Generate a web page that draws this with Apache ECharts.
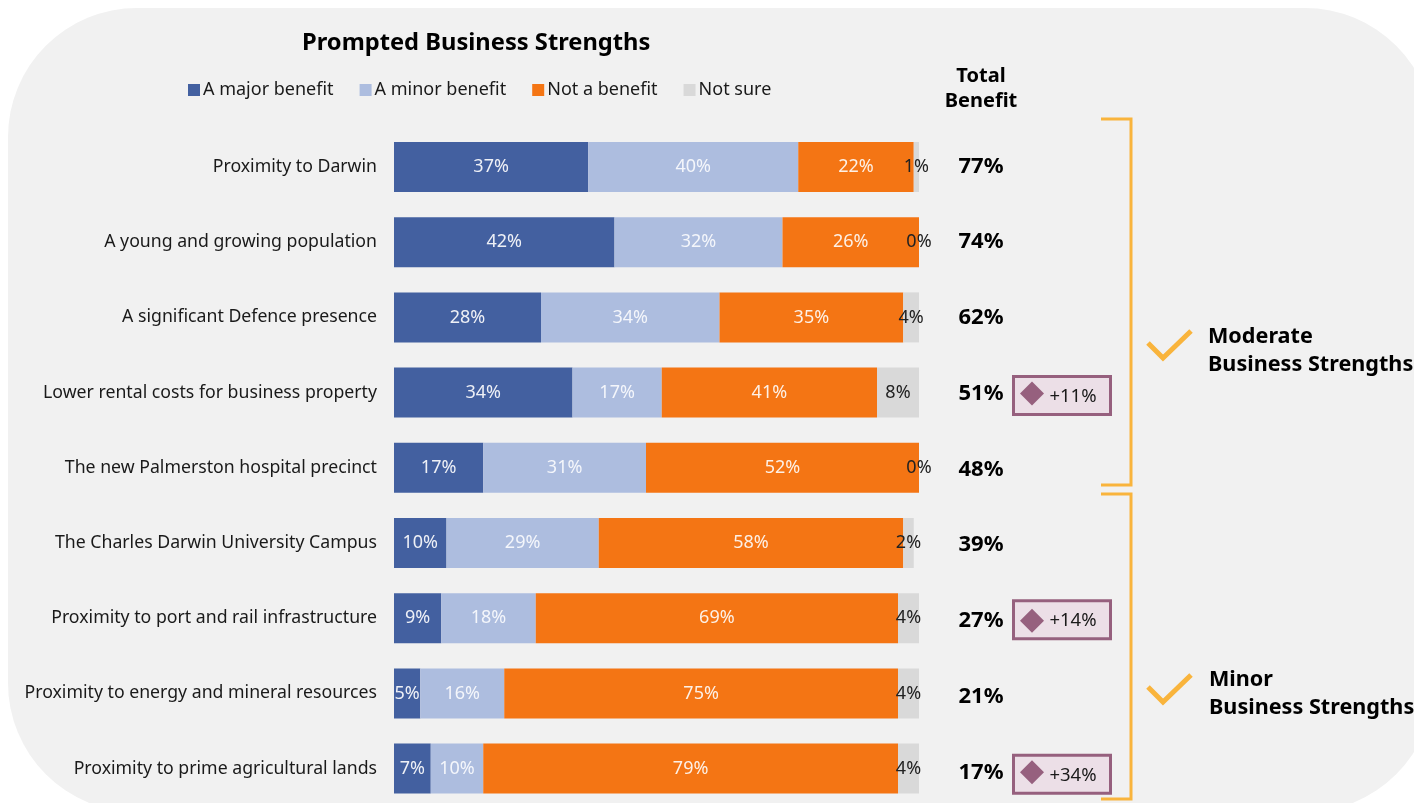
<!DOCTYPE html>
<html>
<head>
<meta charset="utf-8">
<title>Prompted Business Strengths</title>
<style>html,body{margin:0;padding:0;background:#fff}#chart{width:1414px;height:803px}</style>
<script src="https://cdn.jsdelivr.net/npm/echarts@6/dist/echarts.min.js"></script>
</head>
<body>
<div id="chart"></div>
<script>
// Survey responses, in percent, one entry per business strength
const strengths = [
  'Proximity to Darwin',
  'A young and growing population',
  'A significant Defence presence',
  'Lower rental costs for business property',
  'The new Palmerston hospital precinct',
  'The Charles Darwin University Campus',
  'Proximity to port and rail infrastructure',
  'Proximity to energy and mineral resources',
  'Proximity to prime agricultural lands'
];
const majorBenefit = [37, 42, 28, 34, 17, 10, 9, 5, 7];
const minorBenefit = [40, 32, 34, 17, 31, 29, 18, 16, 10];
const notBenefit   = [22, 26, 35, 41, 52, 58, 69, 75, 79];
const notSure      = [1, 0, 4, 8, 0, 2, 4, 4, 4];
const totalBenefit = [77, 74, 62, 51, 48, 39, 27, 21, 17];
const change       = [null, null, null, 11, null, null, 14, null, 34];

const FONT = '"Noto Sans", "Open Sans", sans-serif';
const GOLD = '#f9b43c';
const PLUM = '#96607e';

function stackedBar(name, values, color, labelColor) {
  return {
    name, type: 'bar', stack: 'share', data: values, barWidth: 50, clip: true,
    itemStyle: { color },
    label: {
      show: true, position: 'inside', formatter: '{c}%', offset: [0, 1],
      color: labelColor, fontFamily: FONT, fontSize: 18
    },
    labelLayout: { hideOverlap: false }
  };
}

const changeRows = change.map((v, i) => (v === null ? null : i)).filter(i => i !== null);
// The first and last boxes sit a little below their row centre
const boxNudge = { 3: 3, 6: 0, 8: 3 };

const option = {
  animation: false,
  backgroundColor: '#fff',
  textStyle: { fontFamily: FONT },
  title: [
    { text: 'Prompted Business Strengths', left: 297, top: 26,
      textStyle: { fontFamily: FONT, fontWeight: 'bold', fontSize: 23.7, color: '#000' } },
    { text: 'Total\nBenefit', left: 976, top: 59, textAlign: 'center',
      textStyle: { fontFamily: FONT, fontWeight: 'bold', fontSize: 20, lineHeight: 25, color: '#000' } }
  ],
  legend: {
    left: 188, top: 81, padding: 0, icon: 'rect', itemWidth: 12, itemHeight: 12, itemGap: 26,
    selectedMode: false,
    textStyle: { fontFamily: FONT, fontSize: 18, color: '#1a1a1a', padding: [0, 0, 0, -2] },
    data: ['A major benefit', 'A minor benefit', 'Not a benefit', 'Not sure']
  },
  grid: [
    { left: 394, top: 129.4, width: 525, height: 676.8, outerBoundsMode: 'none' },
    { left: 940.5, top: 128.4, width: 162, height: 681.75, outerBoundsMode: 'none' }
  ],
  xAxis: [
    { type: 'value', gridIndex: 0, min: 0, max: 100, show: false },
    { type: 'category', gridIndex: 1, data: ['Total', 'Change'], show: false }
  ],
  yAxis: [
    { type: 'category', gridIndex: 0, inverse: true, data: strengths,
      axisLine: { show: false }, axisTick: { show: false },
      axisLabel: { margin: 17, padding: [2, 0, 0, 0], fontFamily: FONT, fontSize: 17.7, color: '#1a1a1a' } },
    { type: 'category', gridIndex: 1, inverse: true, data: strengths, show: false }
  ],
  series: [
    stackedBar('A major benefit', majorBenefit, '#4360a0', '#eef0f6'),
    stackedBar('A minor benefit', minorBenefit, '#adbddf', '#f4f6fb'),
    stackedBar('Not a benefit', notBenefit, '#f47514', '#fdf0e6'),
    stackedBar('Not sure', notSure, '#d9d9d9', '#222'),
    {
      name: 'Total benefit', type: 'scatter', xAxisIndex: 1, yAxisIndex: 1, clip: false,
      symbolSize: 0, z: 4, itemStyle: { opacity: 1 },
      data: totalBenefit.map((v, i) => ({ value: ['Total', strengths[i]], total: v })),
      label: {
        show: true, position: 'inside', color: '#000', fontFamily: FONT,
        fontWeight: 'bold', fontSize: 22,
        formatter: p => p.data.total + '%'
      }
    },
    {
      name: 'Change box', type: 'scatter', xAxisIndex: 1, yAxisIndex: 1, clip: false,
      symbolSize: 0, z: 4, itemStyle: { opacity: 1 },
      data: changeRows.map(i => ({
        value: ['Change', strengths[i]],
        label: { offset: [0, boxNudge[i] - 1] }
      })),
      label: {
        show: true, position: 'inside', formatter: ' ',
        width: 94, height: 35, backgroundColor: '#ecdfe7',
        borderColor: PLUM, borderWidth: 3
      }
    },
    {
      name: 'Change', type: 'scatter', xAxisIndex: 1, yAxisIndex: 1, clip: false,
      symbol: 'diamond', symbolSize: 24, symbolOffset: [-30, 0], z: 5,
      itemStyle: { color: PLUM, opacity: 1 },
      data: changeRows.map(i => ({
        value: ['Change', strengths[i]], delta: change[i],
        label: { offset: [41, boxNudge[i]] }
      })),
      label: {
        show: true, position: 'inside', color: '#1a1a1a', fontFamily: FONT, fontSize: 18.5,
        formatter: p => '+' + p.data.delta + '%'
      }
    }
  ],
  graphic: [
    // Panel behind the whole chart
    { type: 'rect', z: -10, silent: true,
      shape: { x: 8, y: 8, width: 1426, height: 804, r: 129 },
      style: { fill: '#f1f1f1' } },
    // Brackets grouping the two strength bands
    { type: 'polyline', silent: true, shape: { points: [[1101, 119], [1131, 119], [1131, 485], [1101, 485]] },
      style: { stroke: GOLD, lineWidth: 3, fill: 'none' } },
    { type: 'polyline', silent: true, shape: { points: [[1101, 494], [1131, 494], [1131, 799], [1101, 799]] },
      style: { stroke: GOLD, lineWidth: 3, fill: 'none' } },
    // Tick marks beside the band names
    { type: 'polyline', silent: true, shape: { points: [[1148, 343], [1163, 358], [1191, 331]] },
      style: { stroke: GOLD, lineWidth: 5, fill: 'none' } },
    { type: 'polyline', silent: true, shape: { points: [[1148, 687], [1163, 702], [1191, 675]] },
      style: { stroke: GOLD, lineWidth: 5, fill: 'none' } },
    { type: 'text', silent: true, left: 1208, top: 323,
      style: { text: 'Moderate\nBusiness Strengths', fill: '#000', lineHeight: 28,
        font: 'bold 21.6px ' + FONT } },
    { type: 'text', silent: true, left: 1209, top: 666,
      style: { text: 'Minor\nBusiness Strengths', fill: '#000', lineHeight: 28,
        font: 'bold 21.6px ' + FONT } }
  ]
};

echarts.init(document.getElementById('chart'), null, { renderer: 'canvas' }).setOption(option);
</script>
</body>
</html>
